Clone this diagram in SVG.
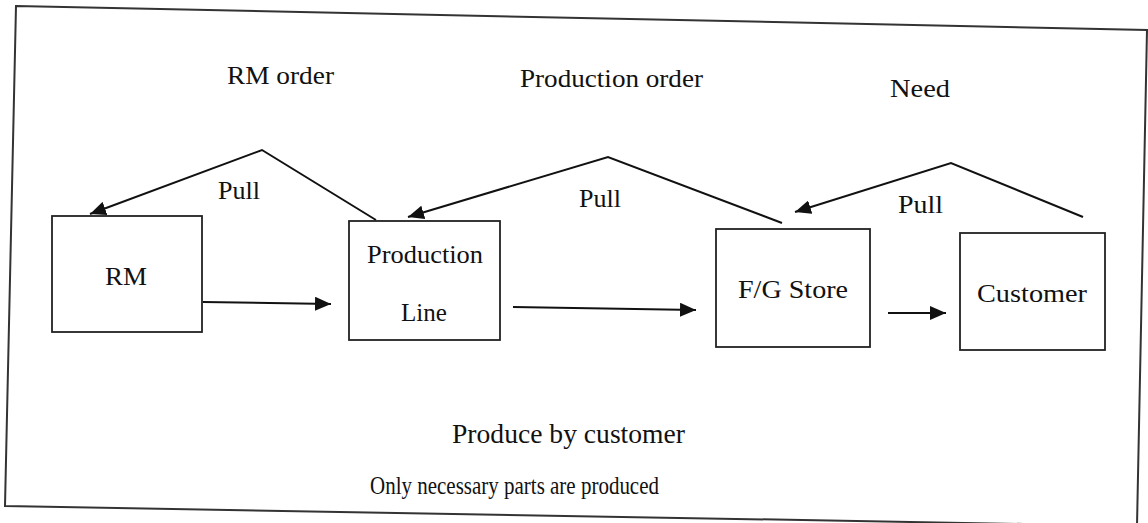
<svg xmlns="http://www.w3.org/2000/svg" width="1148" height="523" viewBox="0 0 1148 523">
<style>
  .box{fill:none;stroke:#222;stroke-width:1.8}
  .con{fill:none;stroke:#111;stroke-width:2}
  .t{font-family:'Liberation Serif','Times New Roman',Tinos,serif;font-size:26px;fill:#111}
</style>
<defs>
  <marker id="ah" markerUnits="userSpaceOnUse" markerWidth="18" markerHeight="14" refX="16" refY="7" orient="auto">
    <path d="M0,0 L16,7 L0,14 Z" fill="#111"/>
  </marker>
</defs>
<rect width="1148" height="523" fill="#fff"/>
<polygon points="16,6 1147,30 1137,526 5,506" fill="none" stroke="#333" stroke-width="2"/>

<g id="labels">
  <text class="t" x="227" y="84" textLength="107" lengthAdjust="spacingAndGlyphs">RM order</text>
  <text class="t" x="520" y="87" textLength="183" lengthAdjust="spacingAndGlyphs">Production order</text>
  <text class="t" x="890" y="97" textLength="60" lengthAdjust="spacingAndGlyphs">Need</text>
  <text class="t" x="218" y="199" textLength="42" lengthAdjust="spacingAndGlyphs">Pull</text>
  <text class="t" x="579" y="207" textLength="42" lengthAdjust="spacingAndGlyphs">Pull</text>
  <text class="t" x="898" y="213" textLength="45" lengthAdjust="spacingAndGlyphs">Pull</text>
  <text class="t" x="452" y="443" style="font-size:28px" textLength="233" lengthAdjust="spacingAndGlyphs">Produce by customer</text>
  <text class="t" x="370" y="494" style="font-size:25px" textLength="289" lengthAdjust="spacingAndGlyphs">Only necessary parts are produced</text>
</g>

<g id="node-rm">
  <rect class="box" x="52" y="216" width="150" height="116"/>
  <text class="t" x="105" y="285" textLength="42" lengthAdjust="spacingAndGlyphs">RM</text>
</g>
<g id="node-production-line">
  <rect class="box" x="349" y="221" width="151" height="119"/>
  <text class="t" x="367" y="263" textLength="116" lengthAdjust="spacingAndGlyphs">Production</text>
  <text class="t" x="401" y="321" textLength="46" lengthAdjust="spacingAndGlyphs">Line</text>
</g>
<g id="node-fg-store">
  <rect class="box" x="716" y="229" width="154" height="118"/>
  <text class="t" x="738" y="298" textLength="110" lengthAdjust="spacingAndGlyphs">F/G Store</text>
</g>
<g id="node-customer">
  <rect class="box" x="960" y="233" width="145" height="117"/>
  <text class="t" x="977" y="302" textLength="110" lengthAdjust="spacingAndGlyphs">Customer</text>
</g>

<g id="connectors">
  <line class="con" x1="203" y1="302" x2="331" y2="304" marker-end="url(#ah)"/>
  <line class="con" x1="513" y1="307" x2="696" y2="310" marker-end="url(#ah)"/>
  <line class="con" x1="888" y1="313" x2="946" y2="313" marker-end="url(#ah)"/>
  <polyline class="con" points="376,220 262,150 90,214" marker-end="url(#ah)"/>
  <polyline class="con" points="782,223 608,157 408,217" marker-end="url(#ah)"/>
  <polyline class="con" points="1083,217 951,163 795,212" marker-end="url(#ah)"/>
</g>
</svg>
